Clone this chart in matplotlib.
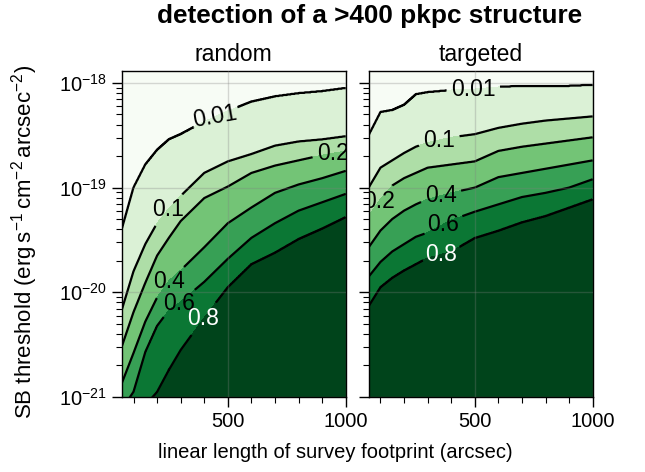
import numpy as np
import matplotlib
matplotlib.use("Agg")
import matplotlib.pyplot as plt

plt.rcParams["font.family"] = ["Liberation Sans", "DejaVu Sans"]
plt.rcParams["mathtext.default"] = "regular"

# survey footprint sizes (arcsec) at which the detection probability was evaluated
sizes = [50, 100, 150, 200, 250, 300, 400, 500, 600, 700, 800, 900, 1000]
prob_levels = [0.01, 0.1, 0.2, 0.4, 0.6, 0.8]
label_fmt = {0.01: "0.01", 0.1: "0.1", 0.2: "0.2", 0.4: "0.4", 0.6: "0.6", 0.8: "0.8"}

# log10 SB threshold at which the detection probability reaches each level
random_p01 = [-19.40, -19.00, -18.78, -18.64, -18.54, -18.49, -18.37, -18.27, -18.18, -18.13, -18.10, -18.08, -18.05]
random_p10 = [-20.17, -19.80, -19.54, -19.34, -19.20, -19.08, -18.86, -18.75, -18.68, -18.60, -18.56, -18.54, -18.51]
random_p20 = [-20.52, -20.19, -19.91, -19.65, -19.48, -19.32, -19.10, -18.99, -18.86, -18.79, -18.74, -18.69, -18.65]
random_p40 = [-20.87, -20.58, -20.28, -20.05, -19.89, -19.79, -19.57, -19.34, -19.19, -19.05, -18.97, -18.91, -18.84]
random_p60 = [-21.12, -20.95, -20.57, -20.32, -20.17, -20.09, -19.90, -19.68, -19.48, -19.34, -19.22, -19.14, -19.06]
random_p80 = [-21.46, -21.27, -21.08, -20.95, -20.74, -20.55, -20.24, -19.95, -19.73, -19.62, -19.49, -19.39, -19.28]

targeted_p01 = [-18.50, -18.28, -18.26, -18.21, -18.11, -18.09, -18.07, -18.06, -18.04, -18.03, -18.03, -18.03, -18.02]
targeted_p10 = [-19.00, -18.81, -18.74, -18.67, -18.61, -18.57, -18.52, -18.49, -18.43, -18.39, -18.36, -18.34, -18.32]
targeted_p20 = [-19.27, -19.11, -18.98, -18.91, -18.86, -18.81, -18.78, -18.75, -18.65, -18.61, -18.58, -18.55, -18.52]
targeted_p40 = [-19.57, -19.41, -19.30, -19.22, -19.16, -19.11, -19.05, -19.00, -18.90, -18.86, -18.82, -18.78, -18.74]
targeted_p60 = [-19.85, -19.71, -19.61, -19.54, -19.47, -19.43, -19.31, -19.23, -19.16, -19.09, -19.05, -19.00, -18.92]
targeted_p80 = [-20.13, -19.95, -19.86, -19.79, -19.73, -19.67, -19.61, -19.48, -19.41, -19.33, -19.27, -19.19, -19.11]

# where the contour labels sit: (size in arcsec, log10 SB)
random_label_pos = [(446, -18.31), (248, -19.21), (945, -18.65), (248, -19.89), (297, -20.12), (396, -20.25)]
targeted_label_pos = [(495, -18.06), (347, -18.52), (86, -19.12), (354, -19.06), (354, -19.30), (354, -19.61)]

panels = [
    ("random", [random_p01, random_p10, random_p20, random_p40, random_p60, random_p80], random_label_pos),
    ("targeted", [targeted_p01, targeted_p10, targeted_p20, targeted_p40, targeted_p60, targeted_p80], targeted_label_pos),
]

fill_levels = [0.0] + prob_levels + [1.0]
fill_colors = [plt.cm.Greens(i / 6) for i in range(7)]
label_colors = ["k", "k", "k", "k", "k", "w"]

log_sb = np.linspace(-21.8, -17.6, 841)
size_grid = np.linspace(50, 1000, 951)


def probability_map(crossings):
    """Probability on a (log SB, size) grid; each level crossing runs straight between sampled sizes."""
    heights = [np.interp(size_grid, sizes, c) for c in crossings]
    fp = [1.0] + prob_levels[::-1] + [0.0]
    cols = []
    for j in range(len(size_grid)):
        xp = [-23.0] + [heights[k][j] for k in range(len(prob_levels) - 1, -1, -1)] + [-16.0]
        cols.append(np.interp(log_sb, xp, fp))
    return np.array(cols).T


fig = plt.figure(figsize=(6.45, 4.72), dpi=100)
ax_l = fig.add_axes([0.1887, 0.1589, 0.3473, 0.6907])
ax_r = fig.add_axes([0.5716, 0.1589, 0.3473, 0.6907], sharey=ax_l)

X, Y = np.meshgrid(size_grid, 10.0 ** log_sb)
for ax, (name, crossings, lpos) in zip([ax_l, ax_r], panels):
    Z = probability_map(crossings)
    ax.contourf(X, Y, Z, levels=fill_levels, colors=fill_colors)
    cs = ax.contour(X, Y, Z, levels=prob_levels, colors="k", linewidths=1.6)
    ax.set_yscale("log")
    ax.set_xlim(50, 1000)
    ax.set_ylim(1e-21, 1.3e-18)
    ax.clabel(cs, fmt=label_fmt, fontsize=16.5, inline=True, inline_spacing=5,
              colors=label_colors,
              manual=[(x, 10.0 ** ly) for x, ly in lpos])
    for t, lev in zip(cs.labelTexts, cs.labelLevelList):
        t.set_rotation(10 if (name == "random" and lev == 0.01) else 0)
        t.set_clip_path(ax.patch)
        t.set_clip_on(True)
    ax.set_title(name, fontsize=16.5, pad=7)
    ax.set_xticks([500, 1000])
    ax.set_xticks(np.arange(100, 1000, 100), minor=True)
    ax.set_yticks([1e-21, 1e-20, 1e-19, 1e-18])
    ax.tick_params(which="major", direction="out", length=7, width=1, labelsize=14.5)
    ax.tick_params(which="minor", direction="out", length=4, width=0.8)
    ax.grid(True, which="major", color="0.5", alpha=0.3, linewidth=1)
    ax.set_axisbelow(False)
    for sp in ax.spines.values():
        sp.set_linewidth(1.0)

ax_r.tick_params(axis="y", which="both", labelleft=False)
ax_l.set_ylim(1e-21, 1.3e-18)
ax_l.set_ylabel(r"SB threshold (erg$\,$s$^{-1}$$\,$cm$^{-2}$$\,$arcsec$^{-2}$)", fontsize=16)
ax_l.yaxis.set_label_coords(-0.365, 0.475)

fig.text(0.573, 0.967, "detection of a >400 pkpc structure", ha="center", va="center",
         fontsize=18.8, fontweight="bold")
fig.text(0.52, 0.042, "linear length of survey footprint (arcsec)", ha="center", va="center",
         fontsize=14.5)

fig.savefig("out.png", dpi=100)
